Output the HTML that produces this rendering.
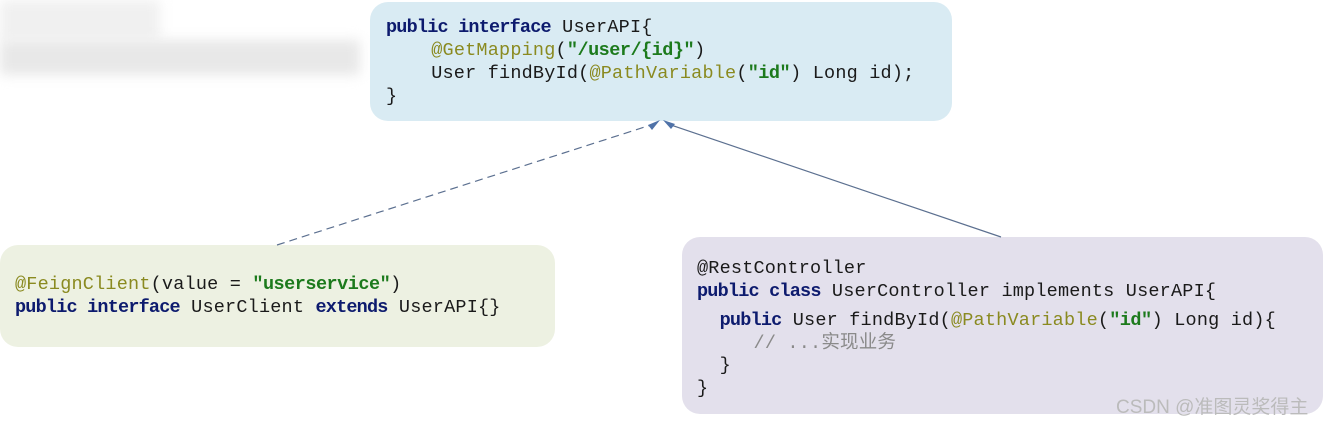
<!DOCTYPE html>
<html><head><meta charset="utf-8"><style>
body{margin:0;width:1324px;height:423px;background:#fff;position:relative;overflow:hidden;font-family:"Liberation Mono","Noto Sans CJK SC",monospace;}
.box{position:absolute;border-radius:18px;}
pre{margin:0;position:absolute;font-family:"Liberation Mono","Noto Sans CJK SC",monospace;font-size:18.5px;line-height:23px;color:#1a1a1a;letter-spacing:0.2px}
.k{color:#0d1b6e;font-weight:bold;letter-spacing:-0.8px}
.a{color:#8a8a20}
.s{color:#1c7a1c;font-weight:bold;letter-spacing:-0.5px}
.c{color:#8a8a8a}
.blur{position:absolute;background:#e6e6e6;filter:blur(6px)}
</style></head><body>
<div class="blur" style="left:0;top:0;width:160px;height:40px;background:#f0f0f0"></div>
<div class="blur" style="left:0;top:40px;width:360px;height:35px;background:#e8e8e8"></div>
<div class="box" style="left:370px;top:2px;width:582px;height:119px;background:#d9ebf3"></div>
<div class="box" style="left:0;top:245px;width:555px;height:102px;background:#edf1e2"></div>
<div class="box" style="left:682px;top:237px;width:641px;height:177px;background:#e3e0ec"></div>
<svg style="position:absolute;left:0;top:0" width="1324" height="423">
<line x1="277" y1="245" x2="654" y2="124" stroke="#5c7090" stroke-width="1.2" stroke-dasharray="8,5"/>
<line x1="1001" y1="237" x2="668" y2="124" stroke="#5c7090" stroke-width="1.2"/>
<polygon points="660,120 648,125 652,130" fill="#4f72a8"/>
<polygon points="663,120 671,129 675,124" fill="#4f72a8"/>
</svg>
<pre style="left:386px;top:16px"><span class="k">public interface</span> UserAPI{
    <span class="a">@GetMapping</span>(<span class="s">"/user/{id}"</span>)
    User findById(<span class="a">@PathVariable</span>(<span class="s">"id"</span>) Long id);
}</pre>
<pre style="left:15px;top:273px"><span class="a">@FeignClient</span>(value = <span class="s">"userservice"</span>)
<span class="k">public interface</span> UserClient <span class="k">extends</span> UserAPI{}</pre>
<pre style="left:697px;top:257px">@RestController
<span class="k">public class</span> UserController implements UserAPI{</pre>
<pre style="left:697px;top:310px;line-height:22.5px">  <span class="k">public</span> User findById(<span class="a">@PathVariable</span>(<span class="s">"id"</span>) Long id){
     <span class="c">// ...实现业务</span>
  }
}</pre>
<div style="position:absolute;left:1116px;top:392px;font-family:'Liberation Sans','Noto Sans CJK SC',sans-serif;font-size:19px;color:#bbb">CSDN @准图灵奖得主</div>
</body></html>
